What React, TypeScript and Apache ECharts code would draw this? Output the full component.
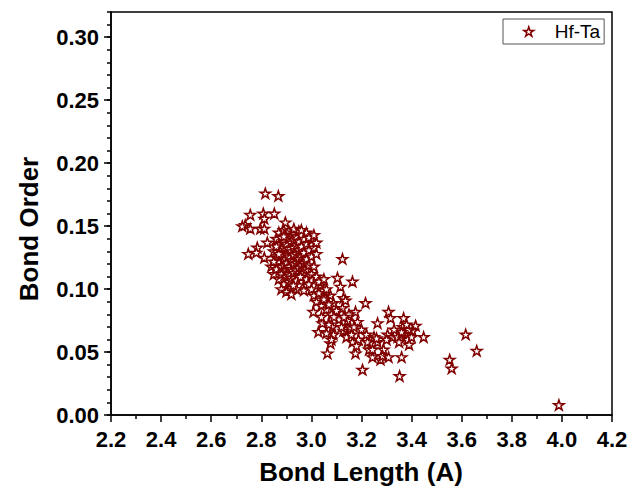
import React, { useEffect, useRef } from "react";
import * as echarts from "echarts";

// Bond Length (A), Bond Order pairs
const upperPoints: [number, number][] = [
  [2.816, 0.176], [2.868, 0.174], [2.756, 0.159], [2.808, 0.160], [2.852, 0.160],
  [2.812, 0.156], [2.736, 0.151], [2.724, 0.150], [2.756, 0.148], [2.796, 0.148],
  [2.812, 0.148], [2.896, 0.153], [2.824, 0.137], [2.784, 0.133], [2.748, 0.128],
  [2.780, 0.129], [2.812, 0.125],
];

const corePoints: [number, number][] = [
  [2.84, 0.118], [2.85, 0.130], [2.85, 0.112], [2.86, 0.140], [2.86, 0.125], [2.86, 0.116],
  [2.87, 0.145], [2.87, 0.135], [2.87, 0.122], [2.87, 0.108], [2.88, 0.141], [2.88, 0.131],
  [2.88, 0.127], [2.88, 0.118], [2.88, 0.112], [2.89, 0.147], [2.89, 0.138], [2.89, 0.133],
  [2.89, 0.124], [2.89, 0.119], [2.89, 0.104], [2.90, 0.143], [2.90, 0.136], [2.90, 0.129],
  [2.90, 0.121], [2.90, 0.115], [2.90, 0.110], [2.91, 0.146], [2.91, 0.140], [2.91, 0.132],
  [2.91, 0.126], [2.91, 0.118], [2.91, 0.112], [2.91, 0.106], [2.92, 0.143], [2.92, 0.137],
  [2.92, 0.130], [2.92, 0.123], [2.92, 0.116], [2.92, 0.109], [2.92, 0.101], [2.93, 0.145],
  [2.93, 0.139], [2.93, 0.133], [2.93, 0.127], [2.93, 0.120], [2.93, 0.113], [2.94, 0.142],
  [2.94, 0.135], [2.94, 0.128], [2.94, 0.121], [2.94, 0.115], [2.94, 0.107], [2.95, 0.146],
  [2.95, 0.138], [2.95, 0.131], [2.95, 0.124], [2.95, 0.117], [2.95, 0.103], [2.96, 0.143],
  [2.96, 0.134], [2.96, 0.126], [2.96, 0.119], [2.96, 0.111], [2.97, 0.140], [2.97, 0.129],
  [2.97, 0.121], [2.97, 0.113], [2.98, 0.145], [2.98, 0.136], [2.98, 0.124], [2.98, 0.116],
  [2.98, 0.108], [2.99, 0.131], [2.99, 0.119], [2.99, 0.104], [3.00, 0.140], [3.00, 0.126],
  [3.00, 0.112], [3.01, 0.133], [3.01, 0.118], [3.02, 0.128], [3.02, 0.110], [2.88, 0.100],
  [2.90, 0.098], [2.97, 0.099], [2.85, 0.122], [2.86, 0.134], [2.87, 0.128], [2.89, 0.142],
  [2.93, 0.148], [2.96, 0.147], [2.99, 0.141], [3.02, 0.137], [3.01, 0.143], [2.94, 0.100],
  [2.92, 0.096],
];

const tailPoints: [number, number][] = [
  [2.956, 0.110], [2.928, 0.103], [3.036, 0.103], [3.048, 0.099], [3.076, 0.095], [3.088, 0.089],
  [3.124, 0.085], [3.008, 0.082], [3.048, 0.094], [3.128, 0.093], [3.104, 0.109], [3.164, 0.106],
  [3.124, 0.124], [3.116, 0.102], [3.136, 0.091], [3.216, 0.089], [3.028, 0.066], [3.044, 0.073],
  [3.084, 0.070], [3.076, 0.057], [3.088, 0.064], [3.144, 0.075], [3.156, 0.069], [3.176, 0.082],
  [3.184, 0.074], [3.128, 0.067], [3.164, 0.058], [3.176, 0.049], [3.188, 0.060], [3.224, 0.058],
  [3.264, 0.058], [3.288, 0.052], [3.276, 0.044], [3.304, 0.064], [3.324, 0.062], [3.344, 0.062],
  [3.364, 0.070], [3.376, 0.064], [3.384, 0.060], [3.404, 0.067], [3.416, 0.071], [3.264, 0.073],
  [3.308, 0.082], [3.316, 0.077], [3.368, 0.077], [3.388, 0.068], [3.448, 0.062], [3.064, 0.049],
  [3.204, 0.036], [3.352, 0.031], [3.360, 0.046], [3.244, 0.046], [3.284, 0.047], [3.308, 0.046],
  [3.00, 0.100], [3.01, 0.095], [3.02, 0.090], [3.03, 0.097], [3.04, 0.087], [3.05, 0.092],
  [3.06, 0.084], [3.07, 0.088], [3.08, 0.080], [3.06, 0.100], [3.03, 0.106], [3.05, 0.108],
  [3.10, 0.083], [3.11, 0.076], [3.09, 0.078], [3.12, 0.070], [3.07, 0.072], [3.15, 0.080],
  [3.14, 0.062], [3.16, 0.064], [3.20, 0.068], [3.22, 0.064], [3.25, 0.062], [3.35, 0.058],
  [3.38, 0.072], [3.40, 0.062], [3.36, 0.066], [3.39, 0.056], [3.33, 0.068], [3.30, 0.060],
  [3.23, 0.052], [3.18, 0.055], [3.17, 0.070], [3.13, 0.078], [3.08, 0.060], [3.06, 0.065],
  [3.04, 0.078], [3.244, 0.052], [3.26, 0.061],
];

const farPoints: [number, number][] = [
  [3.552, 0.044], [3.560, 0.037], [3.616, 0.064], [3.660, 0.051], [3.988, 0.008],
];

const seriesName = "Hf-Ta";
const yMajorTicks = [0, 0.05, 0.1, 0.15, 0.2, 0.25, 0.3];
const xAxisTitle = "Bond Length (A)";
const yAxisTitle = "Bond Order";

const STAR =
  "path://M50,0L61.8,35.1L98.8,35.1L68.9,56.8L80.3,91.9L50,70.2L19.7,91.9L31.1,56.8L1.2,35.1L38.2,35.1Z";
const FONT = "Arial, 'Liberation Sans', Helvetica, sans-serif";
const DARK_RED = "#800000";

export default function App() {
  const ref = useRef<HTMLDivElement>(null);

  useEffect(() => {
    if (!ref.current) return;
    const chart = echarts.init(ref.current, null, { renderer: "svg" });
    const data = [...upperPoints, ...corePoints, ...tailPoints, ...farPoints];
    const axisLineStyle = { color: "#000", width: 1.5 };
    const markerStyle = { color: "#fff", borderColor: DARK_RED, borderWidth: 1.5, opacity: 1 };

    chart.setOption({
      animation: false,
      backgroundColor: "#fff",
      grid: {
        left: 111,
        right: 19,
        top: 12,
        bottom: 81,
        show: true,
        borderColor: "#000",
        borderWidth: 1.5,
        backgroundColor: "transparent",
      },
      legend: {
        left: 503,
        top: 19,
        padding: [3, 4, 3, 20],
        borderColor: "#555",
        borderWidth: 1,
        itemWidth: 10,
        itemHeight: 10,
        itemStyle: markerStyle,
        textStyle: { fontSize: 19, fontFamily: FONT, color: "#000", padding: [0, 0, 0, 16] },
        data: [{ name: seriesName, icon: STAR, itemStyle: markerStyle }],
      },
      xAxis: {
        type: "value",
        min: 2.2,
        max: 4.2,
        interval: 0.2,
        axisLine: { show: true, onZero: false, lineStyle: axisLineStyle },
        axisTick: { show: true, length: 7, lineStyle: axisLineStyle },
        minorTick: { show: true, splitNumber: 2, length: 4, lineStyle: axisLineStyle },
        axisLabel: {
          fontSize: 22,
          fontWeight: "bold",
          fontFamily: FONT,
          color: "#000",
          margin: 13,
          formatter: (v: number) => v.toFixed(1),
        },
        splitLine: { show: false },
      },
      yAxis: [
        {
          type: "value",
          min: 0,
          max: 0.32,
          interval: 0.05,
          position: "left",
          axisLine: { show: true, onZero: false, lineStyle: axisLineStyle },
          axisTick: { show: true, length: 7, lineStyle: axisLineStyle, customValues: yMajorTicks },
          axisLabel: {
            fontSize: 22,
            fontWeight: "bold",
            fontFamily: FONT,
            color: "#000",
            margin: 12,
            customValues: yMajorTicks,
            formatter: (v: number) => v.toFixed(2),
          },
          splitLine: { show: false },
        },
        {
          type: "value",
          min: 0,
          max: 0.32,
          interval: 0.01,
          position: "left",
          axisLine: { show: false },
          axisTick: { show: true, length: 4, lineStyle: axisLineStyle },
          axisLabel: { show: false },
          splitLine: { show: false },
        },
      ],
      series: [
        {
          name: seriesName,
          type: "scatter",
          yAxisIndex: 0,
          symbol: STAR,
          symbolSize: [10.5, 10],
          itemStyle: markerStyle,
          emphasis: { disabled: true },
          data,
        },
      ],
      graphic: [
        {
          type: "text",
          x: 361,
          y: 472,
          style: {
            text: xAxisTitle,
            fontSize: 26,
            fontWeight: "bold",
            fontFamily: FONT,
            fill: "#000",
            align: "center",
            verticalAlign: "middle",
          },
        },
        {
          type: "text",
          x: 29,
          y: 229,
          rotation: Math.PI / 2,
          style: {
            text: yAxisTitle,
            fontSize: 26,
            fontWeight: "bold",
            fontFamily: FONT,
            fill: "#000",
            align: "center",
            verticalAlign: "middle",
          },
        },
      ],
    });
    return () => chart.dispose();
  }, []);

  return (
    <div
      ref={ref}
      style={{ position: "fixed", left: 0, top: 0, width: 631, height: 496, background: "#fff" }}
    />
  );
}
